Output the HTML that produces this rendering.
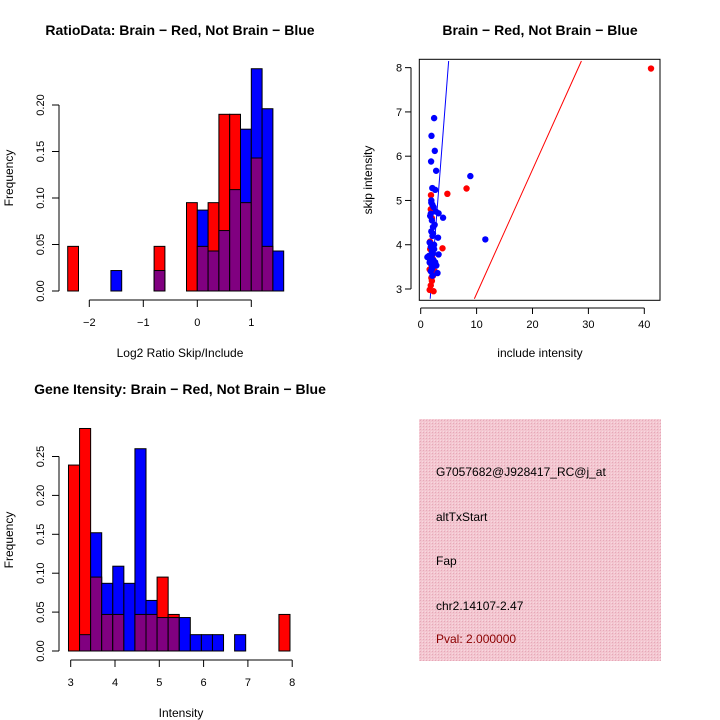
<!DOCTYPE html>
<html><head><meta charset="utf-8"><style>
body{margin:0;background:#fff}
svg{display:block;font-family:"Liberation Sans",sans-serif}
</style></head><body>
<svg id="c" width="720" height="720" viewBox="0 0 720 720">
<defs><pattern id="hatch" width="3" height="3" patternUnits="userSpaceOnUse"><rect width="3" height="3" fill="#f3c6d0"/><rect width="1" height="1" fill="#e6a8b8"/><rect x="2" y="2" width="1" height="1" fill="#f8d8e0"/></pattern></defs>
<g>
<rect x="419" y="419" width="242" height="242" fill="url(#hatch)"/>
<text x="436" y="476" font-size="12" fill="#000">G7057682@J928417_RC@j_at</text>
<text x="436" y="521" font-size="12" fill="#000">altTxStart</text>
<text x="436" y="565" font-size="12" fill="#000">Fap</text>
<text x="436" y="610" font-size="12" fill="#000">chr2.14107-2.47</text>
<text x="436" y="643" font-size="12" fill="#8b0000">Pval: 2.000000</text>
</g>
</svg>
<script>
// ---- Histogram 1: log2 ratio ----
const ratioBinStarts = [-2.4,-2.2,-2.0,-1.8,-1.6,-1.4,-1.2,-1.0,-0.8,-0.6,-0.4,-0.2,0.0,0.2,0.4,0.6,0.8,1.0,1.2,1.4];
const ratioRed  = [0.048,0,0,0,0,0,0,0,0.048,0,0,0.095,0.048,0.095,0.19,0.19,0.095,0.143,0.048,0];
const ratioBlue = [0,0,0,0,0.022,0,0,0,0.022,0,0,0,0.087,0.043,0.065,0.109,0.174,0.239,0.196,0.043];
const ratioXTicks = [-2,-1,0,1];
const ratioYTicks = [0,0.05,0.10,0.15,0.20];
const ratioYLabels = ["0.00","0.05","0.10","0.15","0.20"];
// ---- Histogram 2: intensity ----
const intBinStarts = [2.95,3.2,3.45,3.7,3.95,4.2,4.45,4.7,4.95,5.2,5.45,5.7,5.95,6.2,6.45,6.7,6.95,7.2,7.45,7.7];
const intRed  = [0.239,0.286,0.095,0.047,0.047,0,0.047,0.047,0.095,0.047,0,0,0,0,0,0,0,0,0,0.047];
const intBlue = [0,0.021,0.152,0.087,0.109,0.087,0.26,0.065,0.043,0.043,0.043,0.021,0.021,0.021,0,0.021,0,0,0,0];
const intXTicks = [3,4,5,6,7,8];
const intYTicks = [0,0.05,0.10,0.15,0.20,0.25];
const intYLabels = ["0.00","0.05","0.10","0.15","0.20","0.25"];
// ---- Scatter ----
const redX = [41.2,4.77,8.2,3.9,1.84,1.67,1.6,1.8,2.3,2.0,2.5,2.2,1.9,2.1,1.7,2.0,1.8,2.3,1.9,2.4,1.6];
const redY = [7.98,5.15,5.27,3.92,5.12,4.07,3.44,3.08,2.95,3.18,3.4,3.3,3.55,3.7,3.9,4.6,4.8,3.5,3.25,3.6,2.98];
const blueX = [2.4,1.93,2.52,1.86,2.76,8.88,2.08,2.6,11.56,4.0,3.2,3.1,3.2,3.0,2.8,1.2,1.9,2.1,1.8,2.3,2.0,1.7,2.2,2.5,1.9,2.1,1.6,1.8,2.4,2.0,2.2,1.9,1.7,2.6,2.3,2.0,1.8,2.1,1.5,2.4,2.2,1.9,2.7,2.0,1.6,2.3];
const blueY = [6.86,6.46,6.12,5.88,5.67,5.55,5.28,5.24,4.12,4.61,4.71,4.16,3.78,3.36,3.53,3.72,5.0,4.9,4.7,4.85,4.55,4.65,4.4,4.45,4.3,4.2,4.05,3.95,4.0,3.85,3.8,3.7,3.65,3.6,3.55,3.45,3.4,3.3,3.75,3.9,4.25,4.95,4.75,3.5,3.6,3.65];
const scXTicks = [0,10,20,30,40];
const scYTicks = [3,4,5,6,7,8];
const blueLine = [[1.7,2.78],[5.0,8.15]];
const redLine = [[9.6,2.78],[28.75,8.15]];

const svg = document.getElementById('c');
const NS = 'http://www.w3.org/2000/svg';
function mk(tag, attrs, parent){const e=document.createElementNS(NS,tag);for(const k in attrs)e.setAttribute(k,attrs[k]);(parent||svg).appendChild(e);return e;}
function txt(x,y,s,attrs,parent){const t=mk('text',Object.assign({x:x,y:y,'font-size':12,'text-anchor':'middle'},attrs||{}),parent);t.textContent=s;return t;}

function hist(cfg){
  const g=mk('g',{});
  
  
  const sx=v=>cfg.x0px+(v-cfg.x0)*cfg.xs, sy=v=>cfg.base-v*cfg.ys;
  const w=cfg.bw*cfg.xs;
  cfg.starts.forEach((s,i)=>{
    const r=cfg.red[i], b=cfg.blue[i];
    const hi=Math.max(r,b), lo=Math.min(r,b);
    if(hi>0){
      const rc=mk('rect',{x:sx(s),y:sy(hi),width:w,height:hi*cfg.ys,fill:r>=b?'#ff0000':'#0000ff',stroke:'#000','stroke-width':1},g);
      
      
    }
    if(lo>0){
      const pc=mk('rect',{x:sx(s),y:sy(lo),width:w,height:lo*cfg.ys,fill:'#800080',stroke:'#000','stroke-width':1},g);
      
      
    }
  });
  // y axis
  const yt=cfg.yticks;
  mk('line',{x1:cfg.yAxisX,x2:cfg.yAxisX,y1:sy(yt[0]),y2:sy(yt[yt.length-1]),stroke:'#000'},g);
  yt.forEach((v,i)=>{mk('line',{x1:cfg.yAxisX-7,x2:cfg.yAxisX,y1:sy(v),y2:sy(v),stroke:'#000'},g);
    const t=txt(cfg.yAxisX-15,sy(v),cfg.ylabels[i],{transform:`rotate(-90 ${cfg.yAxisX-15} ${sy(v)})`,'font-size':11},g);
    
    });
  // x axis
  const xt=cfg.xticks, ay=cfg.xAxisY;
  mk('line',{x1:sx(xt[0]),x2:sx(xt[xt.length-1]),y1:ay,y2:ay,stroke:'#000'},g);
  xt.forEach(v=>{mk('line',{x1:sx(v),x2:sx(v),y1:ay,y2:ay+7,stroke:'#000'},g);
    const t=txt(sx(v),ay+26,String(v).replace('-','\u2212'),{'font-size':11},g);
    
    });
  const xl=txt(cfg.xlabX,cfg.xlabY,cfg.xlab,{},g);
  
  
  const yl=txt(13,cfg.ylabY,'Frequency',{transform:`rotate(-90 13 ${cfg.ylabY})`},g);
  
  
  const tt=txt(cfg.titleX,cfg.titleY,cfg.title,{'font-size':14,'font-weight':'bold'},g);
  
  
}
hist({name:'ratio-histogram',starts:ratioBinStarts,red:ratioRed,blue:ratioBlue,bw:0.2,x0:0,x0px:197.3,xs:54,base:291,ys:930,
  yticks:ratioYTicks,ylabels:ratioYLabels,xticks:ratioXTicks,yAxisX:59,xAxisY:300,xlab:'Log2 Ratio Skip/Include',xlabX:180,xlabY:357,ylabY:178,
  title:'RatioData: Brain \u2212 Red, Not Brain \u2212 Blue',titleX:180,titleY:35});
hist({name:'intensity-histogram',starts:intBinStarts,red:intRed,blue:intBlue,bw:0.25,x0:3,x0px:70.7,xs:44.3,base:651,ys:778,
  yticks:intYTicks,ylabels:intYLabels,xticks:intXTicks,yAxisX:59,xAxisY:660,xlab:'Intensity',xlabX:181,xlabY:717,ylabY:540,
  title:'Gene Itensity: Brain \u2212 Red, Not Brain \u2212 Blue',titleX:180,titleY:394});

// scatter
(function(){
  const g=mk('g',{});
  
  
  const sx=v=>420.7+v*5.59, sy=v=>289-(v-3)*44.27;
  const clip=mk('clipPath',{id:'sc'},g); mk('rect',{x:419,y:59,width:241,height:241},clip);
  const pg=mk('g',{'clip-path':'url(#sc)'},g);
  [[blueLine,'#0000ff'],[redLine,'#ff0000']].forEach(([l,c])=>{const ln=mk('line',{x1:sx(l[0][0]),y1:sy(l[0][1]),x2:sx(l[1][0]),y2:sy(l[1][1]),stroke:c,'stroke-width':1},pg);
    
    });
  redX.forEach((x,i)=>{const c=mk('circle',{cx:sx(x),cy:sy(redY[i]),r:3.2,fill:'#ff0000'},pg);
    
    });
  blueX.forEach((x,i)=>{const c=mk('circle',{cx:sx(x),cy:sy(blueY[i]),r:3.2,fill:'#0000ff'},pg);
    
    });
  mk('rect',{x:419.3,y:59.3,width:240.7,height:241,fill:'none',stroke:'#000'},g);
  mk('line',{x1:sx(0),x2:sx(40),y1:308,y2:308,stroke:'#000'},g);
  scXTicks.forEach(v=>{mk('line',{x1:sx(v),x2:sx(v),y1:308,y2:314,stroke:'#000'},g);
    const t=txt(sx(v),328,String(v),{'font-size':11},g);
    
    });
  mk('line',{x1:411,x2:411,y1:sy(3),y2:sy(8),stroke:'#000'},g);
  scYTicks.forEach(v=>{mk('line',{x1:405,x2:411,y1:sy(v),y2:sy(v),stroke:'#000'},g);
    const t=txt(399,sy(v)+4,String(v),{'font-size':11},g);
    
    });
  const xl=txt(540,357,'include intensity',{},g);
  
  
  const yl=txt(372,180,'skip intensity',{transform:'rotate(-90 372 180)'},g);
  
  
  const tt=txt(540,35,'Brain \u2212 Red, Not Brain \u2212 Blue',{'font-size':14,'font-weight':'bold'},g);
  
  
})();
</script>
</body></html>
